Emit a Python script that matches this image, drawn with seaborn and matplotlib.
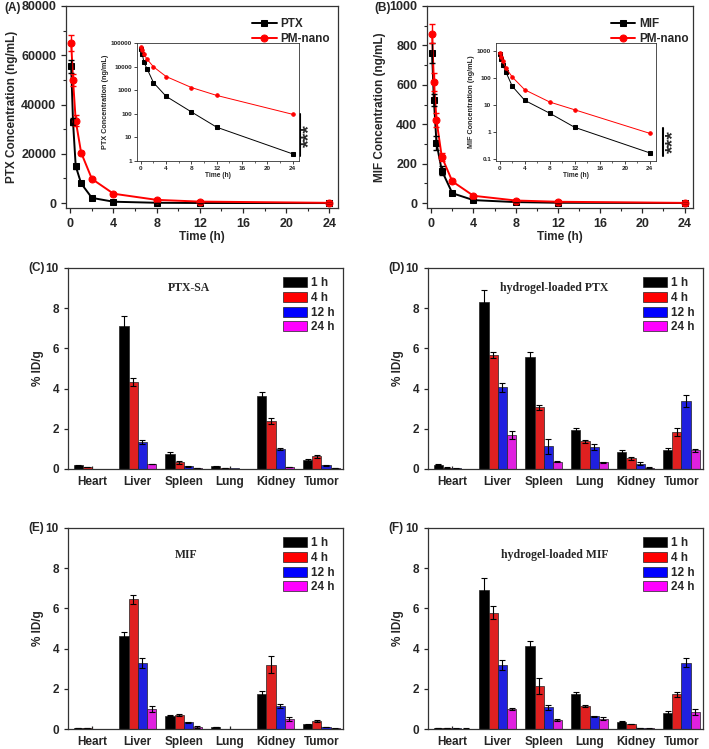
import numpy as np
import pandas as pd
import matplotlib
matplotlib.use("Agg")
import matplotlib.pyplot as plt
import seaborn as sns
from matplotlib.ticker import MultipleLocator, NullLocator
from matplotlib.patches import Patch

# ---- pharmacokinetics (A, B) ----
pk_time = [0.083, 0.25, 0.5, 1, 2, 4, 8, 12, 24]

ptx_conc = [55500, 33000, 15000, 8000, 2100, 550, 120, 27, 2]
ptx_err = [2500, 1500, 1000, 600, 300, 100, 30, 8, 0.5]
pm_ptx_conc = [65000, 50000, 33500, 20500, 9800, 3800, 1300, 600, 95]
pm_ptx_err = [3400, 2300, 2300, 800, 500, 300, 150, 80, 15]

mif_conc = [760, 525, 305, 165, 50, 15, 5, 1.5, 0.17]
mif_err = [50, 30, 35, 25, 8, 3, 1, 0.3, 0.03]
pm_mif_conc = [860, 615, 420, 235, 110, 37, 13, 6.7, 0.9]
pm_mif_err = [50, 45, 35, 20, 10, 4, 2, 1, 0.15]

# ---- biodistribution (C-F), rows = 1 h, 4 h, 12 h, 24 h ----
organs = ["Heart", "Liver", "Spleen", "Lung", "Kidney", "Tumor"]
time_points = ["1 h", "4 h", "12 h", "24 h"]

ptxsa_mean = [[0.18, 7.12, 0.74, 0.13, 3.64, 0.46],
              [0.10, 4.35, 0.33, 0.05, 2.38, 0.63],
              [0.02, 1.32, 0.13, 0.04, 1.00, 0.18],
              [0.01, 0.25, 0.05, 0.01, 0.10, 0.06]]
ptxsa_err = [[0.02, 0.50, 0.12, 0.02, 0.18, 0.04],
             [0.02, 0.20, 0.07, 0.01, 0.15, 0.06],
             [0.00, 0.10, 0.02, 0.00, 0.04, 0.02],
             [0.00, 0.02, 0.01, 0.00, 0.02, 0.01]]

gelptx_mean = [[0.22, 8.31, 5.55, 1.92, 0.83, 0.93],
               [0.07, 5.67, 3.07, 1.37, 0.53, 1.82],
               [0.03, 4.07, 1.12, 1.09, 0.26, 3.39],
               [0.01, 1.69, 0.36, 0.33, 0.07, 0.93]]
gelptx_err = [[0.02, 0.60, 0.27, 0.13, 0.10, 0.13],
              [0.01, 0.17, 0.13, 0.07, 0.07, 0.20],
              [0.01, 0.22, 0.35, 0.13, 0.08, 0.30],
              [0.00, 0.22, 0.02, 0.02, 0.02, 0.07]]

mif_mean = [[0.06, 4.64, 0.66, 0.11, 1.75, 0.23],
            [0.04, 6.46, 0.68, 0.02, 3.19, 0.40],
            [0.02, 3.30, 0.33, 0.02, 1.14, 0.09],
            [0.01, 0.99, 0.10, 0.01, 0.50, 0.03]]
mif_err_bar = [[0.01, 0.20, 0.02, 0.01, 0.15, 0.03],
               [0.01, 0.22, 0.05, 0.00, 0.42, 0.05],
               [0.00, 0.25, 0.03, 0.00, 0.10, 0.01],
               [0.00, 0.15, 0.03, 0.00, 0.10, 0.01]]

gelmif_mean = [[0.05, 6.90, 4.13, 1.75, 0.36, 0.79],
               [0.04, 5.78, 2.15, 1.16, 0.25, 1.72],
               [0.03, 3.19, 1.07, 0.64, 0.06, 3.29],
               [0.02, 0.99, 0.45, 0.51, 0.03, 0.84]]
gelmif_err = [[0.01, 0.62, 0.23, 0.07, 0.02, 0.10],
              [0.01, 0.33, 0.40, 0.05, 0.01, 0.13],
              [0.01, 0.26, 0.10, 0.03, 0.01, 0.22],
              [0.01, 0.06, 0.05, 0.07, 0.01, 0.16]]

bar_colors = ["#000000", "#ff0000", "#0000ff", "#ff00ff"]

sns.set_style("ticks")
plt.rcParams["font.family"] = ["Liberation Sans", "DejaVu Sans"]
plt.rcParams["font.weight"] = "bold"
plt.rcParams["axes.labelweight"] = "bold"
plt.rcParams["axes.edgecolor"] = "#333333"
plt.rcParams["axes.linewidth"] = 0.9

W, H = 709, 749
fig = plt.figure(figsize=(W / 100, H / 100), dpi=100)
fig.patch.set_facecolor("white")


def px_rect(l, t, r, b):
    return [l / W, 1 - b / H, (r - l) / W, (b - t) / H]


def pk_panel(rect, inset_rect, y1, e1, y2, e2, name, ylabel, ylim, ystep,
             inset_ylim, inset_ticks, inset_labels, sig, leg_x):
    ax = fig.add_axes(px_rect(*rect))
    sns.lineplot(x=pk_time, y=y1, ax=ax, color="black", marker="s", markersize=5,
                 markeredgecolor="black", linewidth=1.4, label=name)
    sns.lineplot(x=pk_time, y=y2, ax=ax, color="red", marker="o", markersize=5,
                 markeredgecolor="red", linewidth=1.4, label="PM-nano")
    ax.errorbar(pk_time, y1, yerr=e1, fmt="none", ecolor="black", capsize=2.5, elinewidth=1)
    ax.errorbar(pk_time, y2, yerr=e2, fmt="none", ecolor="red", capsize=2.5, elinewidth=1)
    ax.set_xlim(-0.4, 24.8)
    ax.set_ylim(*ylim)
    ax.xaxis.set_major_locator(MultipleLocator(4))
    ax.xaxis.set_minor_locator(MultipleLocator(2))
    ax.yaxis.set_major_locator(MultipleLocator(ystep))
    ax.yaxis.set_minor_locator(MultipleLocator(ystep / 2))
    ax.tick_params(which="major", direction="out", length=3.5, width=0.9, labelsize=9)
    ax.tick_params(which="minor", direction="out", length=2, width=0.8)
    ax.set_xlabel("Time (h)", fontsize=8.5, labelpad=1)
    ax.set_ylabel(ylabel, fontsize=8.5, labelpad=2)
    ax.legend(loc="upper left", bbox_to_anchor=(leg_x, 0.94), frameon=False,
              prop={"weight": "bold", "size": 8.5}, handlelength=2.1,
              handletextpad=0.3, labelspacing=0.25, borderpad=0, borderaxespad=0)
    # significance bar
    ax.plot([sig[0], sig[0]], [sig[1], sig[2]], transform=ax.transAxes,
            color="black", lw=1.5, clip_on=False)
    ax.text(sig[3], (sig[1] + sig[2]) / 2, "***", rotation=90, transform=ax.transAxes,
            ha="center", va="center", fontsize=14, fontweight="bold")

    axi = fig.add_axes(px_rect(*inset_rect))
    sns.lineplot(x=pk_time, y=y1, ax=axi, color="black", marker="s", markersize=2.5,
                 markeredgecolor="black", linewidth=0.7)
    sns.lineplot(x=pk_time, y=y2, ax=axi, color="red", marker="o", markersize=2.5,
                 markeredgecolor="red", linewidth=0.7)
    axi.set_yscale("log")
    axi.set_ylim(*inset_ylim)
    axi.set_yticks(inset_ticks)
    axi.set_yticklabels(inset_labels)
    axi.yaxis.set_minor_locator(NullLocator())
    axi.set_xlim(-0.6, 25)
    axi.xaxis.set_major_locator(MultipleLocator(4))
    axi.xaxis.set_minor_locator(MultipleLocator(2))
    axi.tick_params(which="major", direction="out", length=2, width=0.6, labelsize=4.6, pad=1.5)
    axi.tick_params(which="minor", direction="out", length=1.2, width=0.5)
    for s in axi.spines.values():
        s.set_linewidth(0.6)
    axi.set_xlabel("Time (h)", fontsize=4.8, labelpad=1)
    axi.set_ylabel(ylabel, fontsize=5.2, labelpad=1.5)
    return ax


pk_panel((66, 6, 338, 208), (137, 43, 299, 161), ptx_conc, ptx_err, pm_ptx_conc,
         pm_ptx_err, "PTX", "PTX Concentration (ng/mL)", (-2000, 80000), 20000,
         (1, 100000), [1, 10, 100, 1000, 10000, 100000],
         ["1", "10", "100", "1000", "10000", "100000"], (0.86, 0.257, 0.465, 0.897), 0.684)

pk_panel((427, 6, 693, 208), (496, 43, 656, 161), mif_conc, mif_err, pm_mif_conc,
         pm_mif_err, "MIF", "MIF Concentration (ng/mL)", (-25, 1000), 200,
         (0.085, 2000), [0.1, 1, 10, 100, 1000],
         ["0.1", "1", "10", "100", "1000"], (0.887, 0.257, 0.396, 0.925), 0.69)


def bar_panel(rect, mean, err, title, title_pos):
    rows = []
    for tp, vals in zip(time_points, mean):
        for org, v in zip(organs, vals):
            rows.append({"organ": org, "time": tp, "value": v})
    df = pd.DataFrame(rows)
    ax = fig.add_axes(px_rect(*rect))
    sns.barplot(data=df, x="organ", y="value", hue="time", order=organs,
                hue_order=time_points, palette=bar_colors, errorbar=None,
                width=0.8, edgecolor="#222222", linewidth=0.5, ax=ax)
    for cont, errs in zip(ax.containers, err):
        for bar, e in zip(cont, errs):
            if e <= 0:
                continue
            xc = bar.get_x() + bar.get_width() / 2
            ax.errorbar(xc, bar.get_height(), yerr=e, fmt="none", ecolor="black",
                        capsize=2, elinewidth=0.8, capthick=0.8)
    ax.set_xlim(-0.52, 5.47)
    ax.set_ylim(0, 10)
    ax.yaxis.set_major_locator(MultipleLocator(2))
    ax.tick_params(axis="y", direction="out", length=3, width=0.9, labelsize=8.5)
    ax.tick_params(axis="x", direction="in", length=2.5, width=0.9, labelsize=8.5, pad=5)
    ax.set_xlabel("")
    ax.set_ylabel("% ID/g", fontsize=8.5, labelpad=1.5)
    ax.text(title_pos[0], title_pos[1], title, transform=ax.transAxes, ha="center",
            va="center", fontsize=8.5, fontweight="bold",
            family=["Liberation Serif", "DejaVu Serif"])
    handles = [Patch(facecolor=c, edgecolor="#222222", linewidth=0.5) for c in bar_colors]
    ax.legend(handles, time_points, loc="upper left", bbox_to_anchor=(0.78, 0.955),
              frameon=False, prop={"weight": "bold", "size": 8.5}, handlelength=2.1,
              handleheight=0.95, handletextpad=0.3, labelspacing=0.22,
              borderpad=0, borderaxespad=0)
    return ax


bar_panel((68, 268, 343, 469), ptxsa_mean, ptxsa_err, "PTX-SA", (0.44, 0.9))
bar_panel((428, 268, 703, 469), gelptx_mean, gelptx_err, "hydrogel-loaded PTX", (0.46, 0.9))
bar_panel((68, 528, 343, 729), mif_mean, mif_err_bar, "MIF", (0.43, 0.866))
bar_panel((428, 528, 703, 729), gelmif_mean, gelmif_err, "hydrogel-loaded MIF", (0.46, 0.866))

for lab, x, y in [("(A)", 4, 8), ("(B)", 374, 8), ("(C)", 28, 268),
                  ("(D)", 388, 268), ("(E)", 28, 528), ("(F)", 388, 528)]:
    fig.text(x / W, 1 - y / H, lab, ha="left", va="center", fontsize=8.5, fontweight="bold")

fig.savefig("out.png", dpi=100, facecolor="white")
